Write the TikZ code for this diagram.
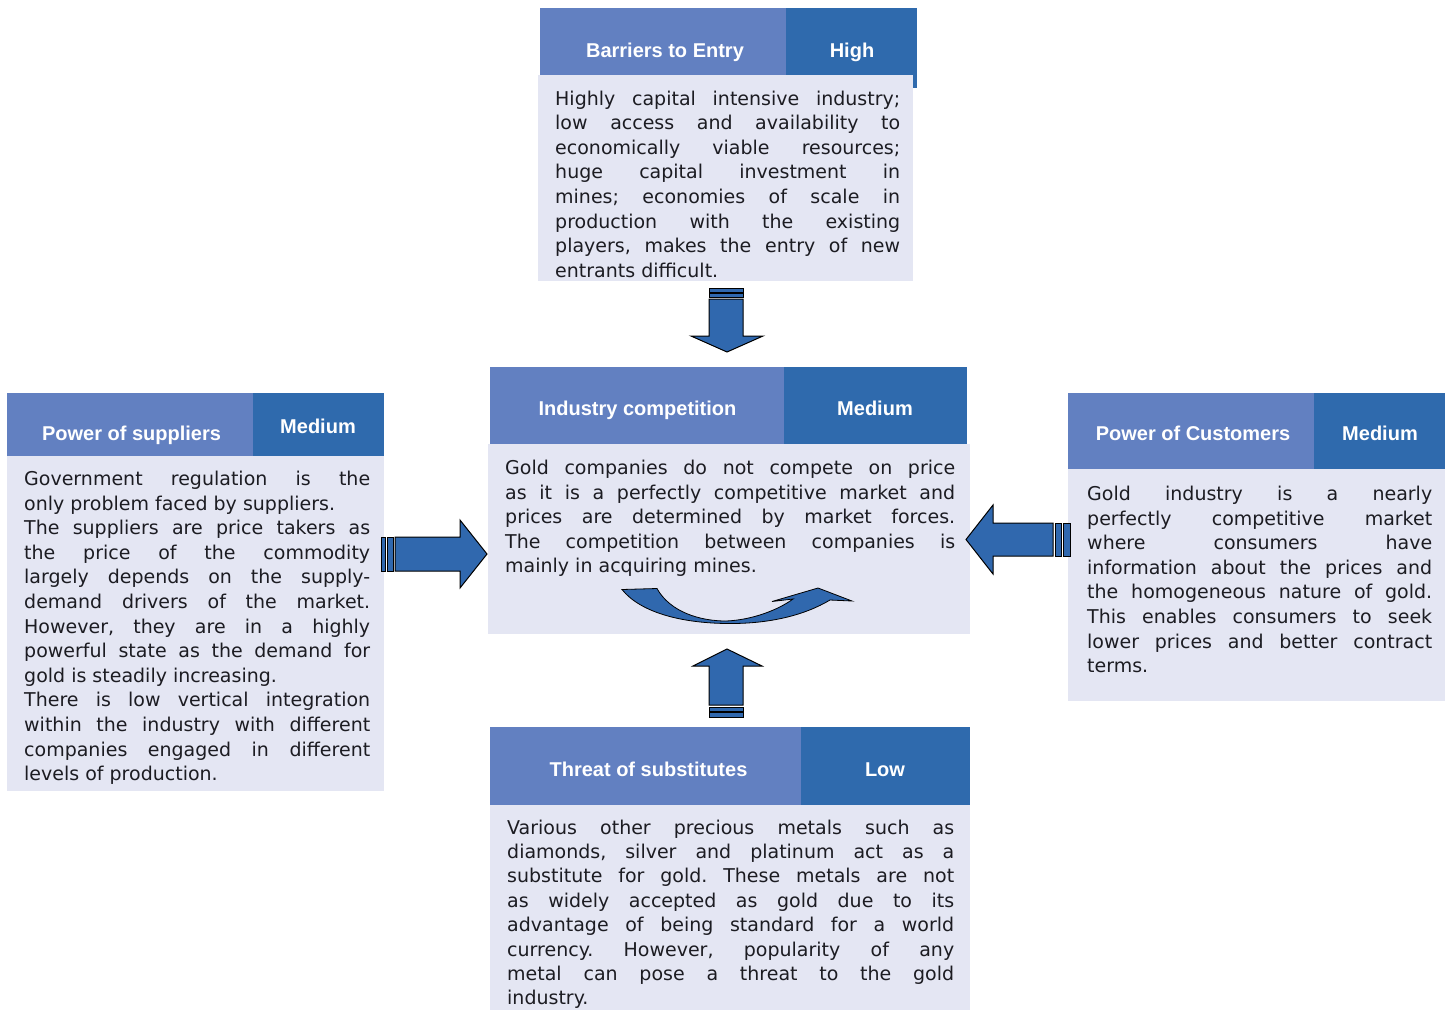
\documentclass[tikz,border=0pt]{standalone}
\usepackage{fontspec}
\setmainfont{DejaVu Sans}
\newfontfamily\hdfont{Liberation Sans}

\definecolor{hdlight}{RGB}{98,128,193}
\definecolor{hddark}{RGB}{47,106,173}
\definecolor{bodybg}{RGB}{228,230,243}
\definecolor{arrowblue}{RGB}{48,104,174}
\definecolor{txt}{RGB}{28,28,34}

% one justified line / one natural-width (last) line of a body paragraph
\newcommand\jl[1]{\hbox to \hsize{#1}}
\newcommand\el[1]{\hbox{#1}}
\newcommand\bodypara[2]{\vtop{\frenchspacing\hsize=#1\relax #2}}

\tikzset{
  hdtext/.style={inner sep=0pt, anchor=base, text=white,
    font=\hdfont\bfseries\fontsize{20}{24}\selectfont},
  bodytext/.style={inner sep=0pt, anchor=base west, text=txt,
    font=\fontsize{19}{24.6}\selectfont},
  blockarrow/.style={fill=arrowblue, draw=black, line width=1pt, line join=miter},
}

\begin{document}
\begin{tikzpicture}[x=1pt, y=-1pt]
\useasboundingbox (0,0) rectangle (1450,1010);
\fill[white] (0,0) rectangle (1450,1010);

% ---------- Barriers to Entry ----------
\fill[hdlight] (540,8) rectangle (786,75);
\fill[hddark] (786,8) rectangle (917,88);
\fill[bodybg] (538,75) rectangle (913,281);
\node[hdtext] (barT) at (665,57) {Barriers to Entry};
\node[hdtext] (barV) at (852,57) {High};
\node[bodytext] (barB) at (555,105) {\bodypara{345pt}{%
\jl{Highly capital intensive industry;}
\jl{low access and availability to}
\jl{economically viable resources;}
\jl{huge capital investment in}
\jl{mines; economies of scale in}
\jl{production with the existing}
\jl{players, makes the entry of new}
\el{entrants difficult.}}};

% ---------- Industry competition ----------
\fill[hdlight] (490,367) rectangle (784,444);
\fill[hddark] (784,367) rectangle (967,444);
\fill[bodybg] (488,444) rectangle (970,634);
\node[hdtext] (indT) at (637.5,415) {Industry competition};
\node[hdtext] (indV) at (875,415) {Medium};
\node[bodytext] (indB) at (505,474.5) {\bodypara{450pt}{%
\jl{Gold companies do not compete on price}
\jl{as it is a perfectly competitive market and}
\jl{prices are determined by market forces.}
\jl{The competition between companies is}
\el{mainly in acquiring mines.}}};

% ---------- Power of suppliers ----------
\fill[hdlight] (7,393) rectangle (253,456);
\fill[hddark] (253,393) rectangle (384,456);
\fill[bodybg] (7,456) rectangle (384,791);
\node[hdtext] (supT) at (131.5,440) {Power of suppliers};
\node[hdtext] (supV) at (318,433) {Medium};
\node[bodytext] (supB) at (24,485.5) {\bodypara{346pt}{%
\jl{Government regulation is the}
\el{only problem faced by suppliers.}
\jl{The suppliers are price takers as}
\jl{the price of the commodity}
\jl{largely depends on the supply-}
\jl{demand drivers of the market.}
\jl{However, they are in a highly}
\jl{powerful state as the demand for}
\el{gold is steadily increasing.}
\jl{There is low vertical integration}
\jl{within the industry with different}
\jl{companies engaged in different}
\el{levels of production.}}};

% ---------- Power of Customers ----------
\fill[hdlight] (1068,393) rectangle (1314,469);
\fill[hddark] (1314,393) rectangle (1445,469);
\fill[bodybg] (1068,469) rectangle (1445,701);
\node[hdtext] (cusT) at (1193,440) {Power of Customers};
\node[hdtext] (cusV) at (1380,440) {Medium};
\node[bodytext] (cusB) at (1087,500.5) {\bodypara{345pt}{%
\jl{Gold industry is a nearly}
\jl{perfectly competitive market}
\jl{where consumers have}
\jl{information about the prices and}
\jl{the homogeneous nature of gold.}
\jl{This enables consumers to seek}
\jl{lower prices and better contract}
\el{terms.}}};

% ---------- Threat of substitutes ----------
\fill[hdlight] (490,727) rectangle (801,805);
\fill[hddark] (801,727) rectangle (970,805);
\fill[bodybg] (490,805) rectangle (970,1010);
\node[hdtext] (subT) at (648.5,776) {Threat of substitutes};
\node[hdtext] (subV) at (885,776) {Low};
\node[bodytext, font=\fontsize{19}{24.4}\selectfont] (subB) at (507,834) {\bodypara{447pt}{%
\jl{Various other precious metals such as}
\jl{diamonds, silver and platinum act as a}
\jl{substitute for gold. These metals are not}
\jl{as widely accepted as gold due to its}
\jl{advantage of being standard for a world}
\jl{currency. However, popularity of any}
\jl{metal can pose a threat to the gold}
\el{industry.}}};

% ---------- striped block arrows ----------
% from Barriers to Entry (down)
\draw[blockarrow] (709,288) rectangle (743,292);
\draw[blockarrow] (709,293) rectangle (743,297);
\draw[blockarrow] (709,299) -- (743,299) -- (743,336) -- (763,336) -- (727,352)
  -- (691,336) -- (709,336) -- cycle;
% from Power of suppliers (right)
\draw[blockarrow] (381,537) rectangle (385,571);
\draw[blockarrow] (387,537) rectangle (393,571);
\draw[blockarrow] (395,537) -- (460,537) -- (460,520) -- (487,554) -- (460,588)
  -- (460,571) -- (395,571) -- cycle;
% from Power of Customers (left)
\draw[blockarrow] (1063,523) rectangle (1070,556);
\draw[blockarrow] (1055,523) rectangle (1061,556);
\draw[blockarrow] (1053,523) -- (993,523) -- (993,505) -- (966,539.5) -- (993,574)
  -- (993,556) -- (1053,556) -- cycle;
% from Threat of substitutes (up)
\draw[blockarrow] (709,712) rectangle (743,717);
\draw[blockarrow] (709,707) rectangle (743,711);
\draw[blockarrow] (709,705) -- (743,705) -- (743,666) -- (762,666) -- (727,649)
  -- (693,666) -- (709,666) -- cycle;

% ---------- rivalry: curved arrow inside the competition block ----------
\draw[blockarrow, line width=0.8pt] (622,589.5) -- (657,588.5)
  .. controls (670,612) and (700,621) .. (726,621)
  .. controls (752,620) and (778,610) .. (793,599)
  -- (772,601.5) -- (818,588) -- (852,601) -- (830,600)
  .. controls (805,615) and (770,624) .. (727,623.5)
  .. controls (680,623) and (640,612) .. cycle;
\end{tikzpicture}
\end{document}
